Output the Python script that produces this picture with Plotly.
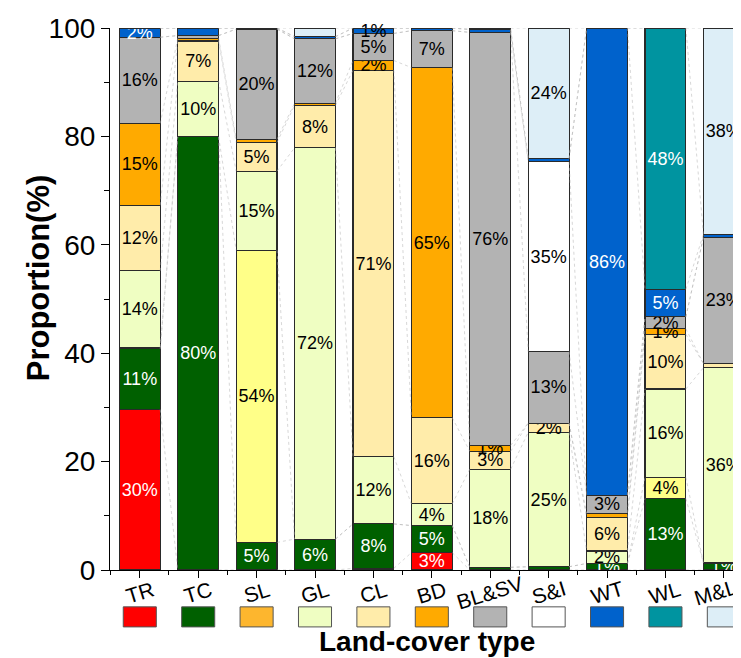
import plotly.graph_objects as go

categories = ["TR", "TC", "SL", "GL", "CL", "BD", "BL&SV", "S&I", "WT", "WL", "M&L"]
series_names = ["TR", "TC", "SL", "GL", "CL", "BD", "BL&SV", "S&I", "WT", "WL", "M&L"]

# proportion (%) of each source type (series) within each land-cover column
v_TR = [29.6, 0, 0, 0, 0.3, 3.2, 0, 0, 0, 0, 0]
v_TC = [11.2, 79.9, 5.1, 5.7, 8.2, 5.0, 0.5, 0.6, 1.2, 13.2, 1.3]
v_SL = [0.3, 0, 53.9, 0, 0, 0, 0, 0, 0, 3.9, 0]
v_GL = [14.1, 10.3, 14.6, 72.2, 12.4, 4.0, 18.1, 24.8, 2.3, 16.3, 36.0]
v_CL = [12.1, 7.4, 5.3, 7.8, 71.3, 15.9, 3.3, 1.7, 6.2, 10.1, 0.8]
v_BD = [15.1, 0.5, 0.6, 0.4, 1.8, 64.6, 1.1, 0, 0.8, 1.0, 0]
v_BLSV = [15.9, 0.5, 20.3, 11.9, 5.0, 6.8, 76.2, 13.2, 3.3, 2.2, 23.3]
v_SI = [0, 0, 0, 0, 0, 0, 0, 35.0, 0, 0, 0]
v_WT = [1.7, 1.4, 0.2, 0.4, 1.0, 0.5, 0.5, 0.6, 86.2, 5.1, 0.5]
v_WL = [0, 0, 0, 0, 0, 0, 0, 0, 0, 48.2, 0]
v_ML = [0, 0, 0, 1.6, 0, 0, 0.3, 24.1, 0, 0, 38.1]

series_values = [v_TR, v_TC, v_SL, v_GL, v_CL, v_BD, v_BLSV, v_SI, v_WT, v_WL, v_ML]

y_ticks = [0, 20, 40, 60, 80, 100]
y_minor = [10, 30, 50, 70, 90]

bar_colors = ["#FF0000", "#006000", "#FFFF88", "#EFFEC2", "#FFECAA", "#FFAA00",
              "#B3B3B3", "#FFFFFF", "#0062CC", "#0094A0", "#DDEEF7"]
legend_colors = ["#FF0000", "#006000", "#FDB62E", "#EFFEC2", "#FFECAA", "#FFAA00",
                 "#B3B3B3", "#FFFFFF", "#0062CC", "#0094A0", "#DDEEF7"]
white_text = [True, True, False, False, False, False, False, False, True, True, False]

FONT = "Liberation Sans, Arial, sans-serif"
BAR_W = 0.70
xs = list(range(len(categories)))

fig = go.Figure()

# faint connector lines between stack boundaries of adjacent columns
cum = [0.0] * len(categories)
for vals in series_values:
    cum = [c + v for c, v in zip(cum, vals)]
    lx, ly = [], []
    for i in range(len(categories) - 1):
        lx += [xs[i] + BAR_W / 2, xs[i + 1] - BAR_W / 2, None]
        ly += [cum[i], cum[i + 1], None]
    fig.add_trace(go.Scatter(x=lx, y=ly, mode="lines",
                             line=dict(color="rgba(175,175,175,0.5)", width=1, dash="dot"),
                             hoverinfo="skip", showlegend=False))

for name, vals, col, wt in zip(series_names, series_values, bar_colors, white_text):
    labels = [f"{round(v)}%" if v >= 1.0 else "" for v in vals]
    tcols = ["white" if (wt and v >= 1.2) else "black" for v in vals]
    fig.add_trace(go.Bar(
        x=xs, y=vals, name=name, width=BAR_W,
        marker=dict(color=col, line=dict(color="#2a2a2a", width=1.1)),
        text=labels, textposition="inside", insidetextanchor="middle",
        constraintext="none", textangle=0,
        textfont=dict(family=FONT, size=18, color=tcols),
        cliponaxis=False, showlegend=False,
    ))

annotations = []
# category labels (rotated), centred under each tick (last one nudged inside the page)
for i, cat in enumerate(categories):
    annotations.append(dict(text=cat, xref="x", yref="paper", x=min(xs[i], 9.85), y=-0.042,
                            xanchor="center", yanchor="middle", textangle=-17,
                            showarrow=False, font=dict(family=FONT, size=21)))
# legend swatches under the category labels
for i, col in enumerate(legend_colors):
    fig.add_shape(type="rect", xref="x", yref="paper",
                  x0=xs[i] - 0.283, x1=xs[i] + 0.283, y0=-0.068, y1=-0.105,
                  fillcolor=col, line=dict(color="#555555", width=1))

annotations.append(dict(text="<b>Land-cover type</b>", xref="paper", yref="paper",
                        x=0.5, y=-0.131, xanchor="center", yanchor="middle",
                        showarrow=False, font=dict(family=FONT, size=28)))
annotations.append(dict(text="<b>Proportion(%)</b>", xref="paper", yref="paper",
                        x=-0.1136, y=0.54, xanchor="center", yanchor="middle", textangle=-90,
                        showarrow=False, font=dict(family=FONT, size=31)))

fig.update_layout(
    width=741, height=658,
    margin=dict(l=102, r=5, t=20, b=96),
    barmode="stack",
    plot_bgcolor="white", paper_bgcolor="white",
    font=dict(family=FONT, color="black"),
    hovermode=False,
    annotations=annotations,
)
fig.update_xaxes(
    range=[-0.51, 10.345], tickmode="array", tickvals=xs, showticklabels=False,
    showline=True, linecolor="black", linewidth=1.2,
    ticks="outside", ticklen=7, tickcolor="black",
    minor=dict(ticks="outside", ticklen=4, dtick=0.5, tick0=0.5, tickcolor="black"),
    showgrid=False, zeroline=False,
)
fig.update_yaxes(
    range=[0, 100], tickmode="array", tickvals=y_ticks,
    tickfont=dict(family=FONT, size=28),
    showline=True, linecolor="black", linewidth=1.2,
    ticks="outside", ticklen=8, tickcolor="black",
    minor=dict(ticks="outside", ticklen=5, tickvals=y_minor, tickcolor="black"),
    showgrid=False, zeroline=False,
)

fig.write_html("out.html")
